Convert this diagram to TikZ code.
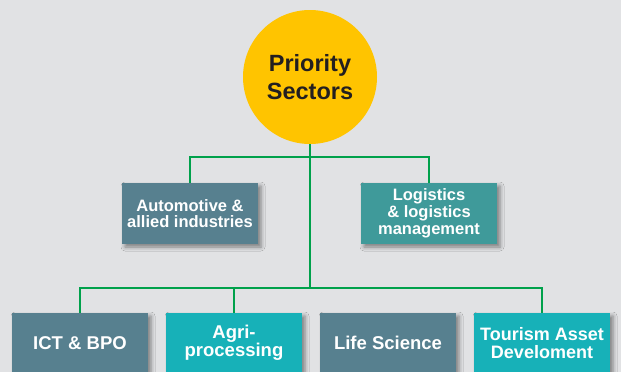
\documentclass[tikz,border=0pt]{standalone}
\usepackage{fontspec}
\setmainfont{Liberation Sans}
\usepackage{tikz}
\usetikzlibrary{positioning,calc,shadows.blur}
\definecolor{bgcol}{HTML}{E1E2E4}
\definecolor{sunny}{HTML}{FFC400}
\definecolor{slate}{HTML}{57808F}
\definecolor{seagreen}{HTML}{3F9A9A}
\definecolor{aqua}{HTML}{17B1B8}
\definecolor{wire}{HTML}{00A14B}
\definecolor{ink}{HTML}{231F20}
\tikzset{sector/.style={rectangle,minimum width=136pt,inner sep=0pt,text=white,align=center,
    blur shadow={shadow xshift=3pt,shadow yshift=-3pt,shadow blur radius=4pt,shadow opacity=45}}}

\begin{document}
\begin{tikzpicture}[x=1pt, y=-1pt, semithick]
        \tikzstyle{line}=[draw=wire,line width=2.5pt]
        \useasboundingbox[fill=bgcol] (0,0) rectangle (621,372);
        \node[shape=circle,fill=sunny,minimum size=134pt,inner sep=0pt,text=ink,align=center,
              font=\bfseries\fontsize{23.5}{28}\selectfont] (0) at (310,77) {Priority\\Sectors};
        \node[sector,fill=slate,minimum height=61pt,font=\bfseries\fontsize{16.5}{16}\selectfont] (1) at (190,213.5) {Automotive \&\\allied industries};
        \node[sector,fill=seagreen,minimum height=61pt,font=\bfseries\fontsize{16.5}{17}\selectfont] (2) at (429,213.5) {Logistics\\\& logistics\\management};
        \node[sector,fill=slate,minimum height=60pt,font=\bfseries\fontsize{18.5}{17.5}\selectfont] (3) at (80,343) {ICT \& BPO};
        \node[sector,fill=aqua,minimum height=60pt,font=\bfseries\fontsize{18.5}{17.5}\selectfont] (4) at (234,343) {Agri-\\processing};
        \node[sector,fill=slate,minimum height=60pt,font=\bfseries\fontsize{18.5}{17.5}\selectfont] (5) at (388,343) {Life Science};
        \node[sector,fill=aqua,minimum height=60pt,font=\bfseries\fontsize{18}{17.5}\selectfont] (6) at (542,343) {Tourism Asset\\Develoment};
        \coordinate (h1) at (310,157);
        \coordinate (h2) at (310,288);
        \path[line] (0.south) -- (h2);
        \path[line] (1.north) |- (h1) -| (2.north);
        \path[line] (3.north) |- (h2) -| (6.north);
        \path[line] (4.north) -- (4.north |- h2);
\end{tikzpicture}
\end{document}
